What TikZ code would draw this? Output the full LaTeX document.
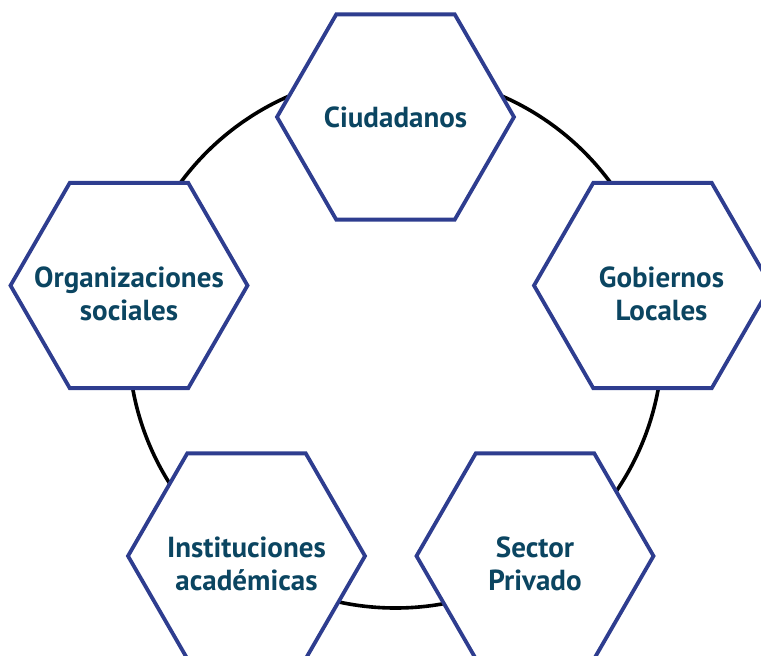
\documentclass[tikz,border=0pt]{standalone}
\usepackage{fontspec}
\setmainfont{PT Sans}
\usepackage{xcolor}
\usetikzlibrary{shapes.geometric}
\definecolor{hexblue}{HTML}{2E3D8F}
\definecolor{textteal}{HTML}{0B4561}

\begin{document}
\begin{tikzpicture}[x=0.5pt,y=-0.5pt,
  actor/.style={draw=hexblue, line width=1.9pt, fill=white, regular polygon, regular polygon sides=6,
    minimum size=118.5pt, inner sep=0pt},
  actortext/.style={align=center, font=\fontsize{14.5}{16.5}\selectfont\bfseries, text=textteal},
  lowtext/.style={actortext, yshift=-4pt}]
\useasboundingbox (0,0) rectangle (761,655);

% ring behind the actors
\draw[line width=1.8pt] (395.5,341) circle[radius=267];

% actors
\node[actor, label={[actortext]center:Ciudadanos}] (ciud) at (395.5,117) {};
\node[actor, label={[lowtext]center:Organizaciones\\sociales}] (orgs) at (129,285.5) {};
\node[actor, label={[lowtext, xshift=4.5pt]center:Gobiernos\\Locales}] (gob) at (652.5,285.5) {};
\node[actor, label={[lowtext]center:Instituciones\\académicas}] (inst) at (246.5,556) {};
\node[actor, label={[lowtext]center:Sector\\Privado}] (priv) at (535,556) {};
\end{tikzpicture}
\end{document}
